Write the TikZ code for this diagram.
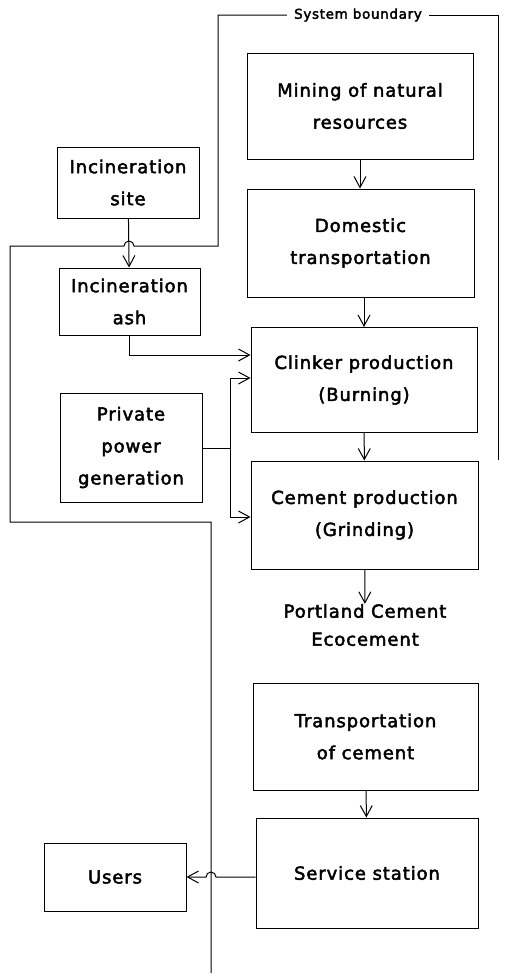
\documentclass[tikz,border=0pt]{standalone}
\usepackage{fontspec}
\setmainfont{DejaVu Sans}[LetterSpace=5, FakeBold=2.5]
\usetikzlibrary{arrows.meta}
\tikzset{
  procbox/.style={draw, line width=1pt, align=center, inner sep=0pt, font=\fontsize{18}{32}\selectfont},
  flow/.style={line width=1pt, -{Straight Barb[length=11pt,width=12pt]}},
  bline/.style={line width=1pt},
}
\begin{document}
\begin{tikzpicture}[x=1pt, y=-1pt]
    \useasboundingbox (0,0) rectangle (504,975);

    % Process boxes
    \node (mining) [procbox, minimum width=226pt, minimum height=106pt] at (360,106) {Mining of natural\\resources};
    \node (domestic) [procbox, minimum width=227pt, minimum height=108pt] at (360.5,243) {Domestic\\transportation};
    \node (clinker) [procbox, minimum width=226pt, minimum height=105pt] at (364,380) {Clinker production\\(Burning)};
    \node (cement) [procbox, minimum width=227pt, minimum height=108pt] at (364.5,515) {Cement production\\(Grinding)};
    \node (product) [align=center, inner sep=0pt, font=\fontsize{18}{28}\selectfont] at (365,625) {Portland Cement\\Ecocement};
    \node (transport) [procbox, minimum width=225pt, minimum height=107pt] at (365.5,736.5) {Transportation\\of cement};
    \node (service) [procbox, minimum width=222pt, minimum height=110pt] at (367,873) {Service station};

    % Side boxes
    \node (incsite) [procbox, minimum width=142pt, minimum height=71pt] at (128,182.5) {Incineration\\site};
    \node (incash) [procbox, minimum width=141pt, minimum height=67pt] at (129.5,301.5) {Incineration\\ash};
    \node (private) [procbox, minimum width=142pt, minimum height=109pt] at (131,447.5) {Private\\power\\generation};
    \node (users) [procbox, minimum width=142pt, minimum height=68pt] at (115,877) {Users};

    % System boundary
    \node (sysb) [font=\fontsize{13.5}{15}\selectfont, inner xsep=7pt] at (358,15) {System boundary};
    \coordinate (hopa) at (134,246);
    \draw[bline] (sysb.west) -- (218,15) -- (218,246) -- (hopa)
        arc[start angle=0, end angle=180, radius=5pt] -- (10,246) -- (10,522) -- (211,522) -- (211,973);
    \draw[bline] (sysb.east) -- (498,15) -- (498,460);

    % Main flow
    \draw[flow] (mining.south) -- (mining.south |- domestic.north);
    \draw[flow] (domestic.south -| clinker) -- (clinker.north);
    \draw[flow] (clinker) -- (cement);
    \draw[flow] (cement) -- (product);
    \draw[flow] (transport) -- (service);

    % Side flows
    \draw[flow] (incsite) -- (incash);
    \draw[flow] (incash.south) |- (clinker.west |- 0,355);
    \coordinate (split) at (230,448);
    \draw[bline] (private.east |- split) -- (split);
    \draw[flow] (split) |- (clinker.west |- 0,378);
    \draw[flow] (split) |- (cement.west |- 0,517);
    \coordinate (hopb) at (216,877);
    \draw[flow] (service.west |- hopb) -- (hopb)
        arc[start angle=0, end angle=180, radius=5pt] -- (users.east |- hopb);
\end{tikzpicture}
\end{document}
